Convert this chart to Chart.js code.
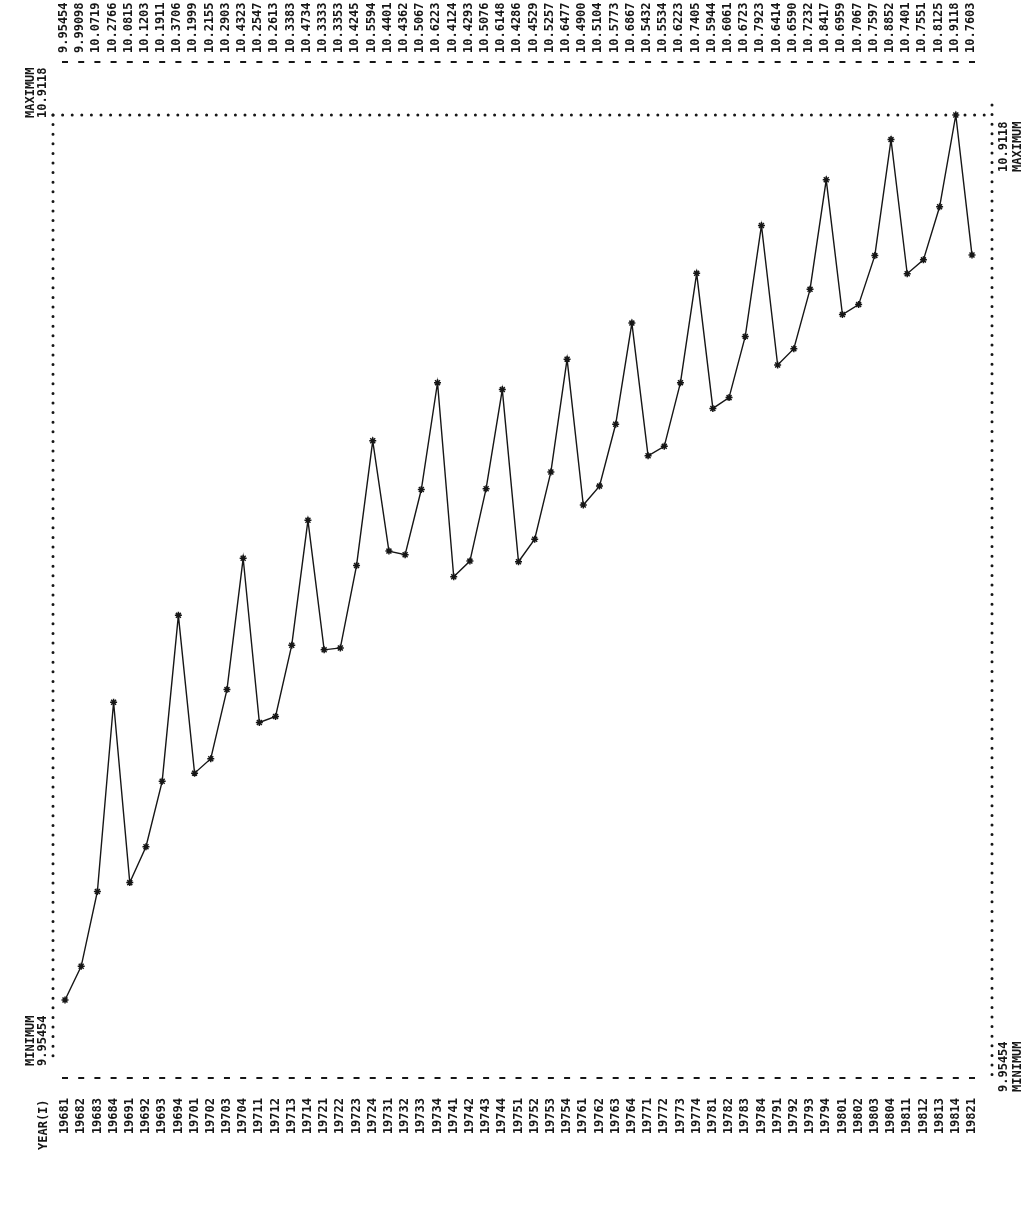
<!DOCTYPE html>
<html>
<head>
<meta charset="utf-8">
<script src="https://cdn.jsdelivr.net/npm/chart.js@4.4.1/dist/chart.umd.min.js"></script>
<style>
  html, body { margin: 0; padding: 0; background: #fff; }
  #wrap { width: 1030px; height: 1205px; }
</style>
</head>
<body>
<div id="wrap"><canvas id="plot"></canvas></div>
<script>
// quarterly series, 1968 Q1 .. 1982 Q1
const periods = [
  '19681', '19682', '19683', '19684', '19691', '19692', '19693', '19694',
  '19701', '19702', '19703', '19704', '19711', '19712', '19713', '19714',
  '19721', '19722', '19723', '19724', '19731', '19732', '19733', '19734',
  '19741', '19742', '19743', '19744', '19751', '19752', '19753', '19754',
  '19761', '19762', '19763', '19764', '19771', '19772', '19773', '19774',
  '19781', '19782', '19783', '19784', '19791', '19792', '19793', '19794',
  '19801', '19802', '19803', '19804', '19811', '19812', '19813', '19814',
  '19821'
];

const values = [
  9.95454, 9.99098, 10.0719, 10.2766, 10.0815, 10.1203, 10.1911, 10.3706,
  10.1999, 10.2155, 10.2903, 10.4323, 10.2547, 10.2613, 10.3383, 10.4734,
  10.3333, 10.3353, 10.4245, 10.5594, 10.4401, 10.4362, 10.5067, 10.6223,
  10.4124, 10.4293, 10.5076, 10.6148, 10.4286, 10.4529, 10.5257, 10.6477,
  10.4900, 10.5104, 10.5773, 10.6867, 10.5432, 10.5534, 10.6223, 10.7405,
  10.5944, 10.6061, 10.6723, 10.7923, 10.6414, 10.6590, 10.7232, 10.8417,
  10.6959, 10.7067, 10.7597, 10.8852, 10.7401, 10.7551, 10.8125, 10.9118,
  10.7603
];

const axisTitle = 'YEAR(I)';
const minWord = 'MINIMUM';
const maxWord = 'MAXIMUM';

// printer style number: 6 significant digits
const fmt = v => v < 10 ? v.toFixed(5) : v.toFixed(4);
const valueLabels = values.map(fmt);
const lo = Math.min(...values);
const hi = Math.max(...values);

const FONT = '"DejaVu Sans Mono", monospace';
const INK = '#161616';

function upText(ctx, text, x, y) {
  // text reads bottom to top, starting at (x, y)
  ctx.save();
  ctx.translate(x, y);
  ctx.rotate(-Math.PI / 2);
  ctx.textAlign = 'left';
  ctx.textBaseline = 'middle';
  ctx.fillText(text, 0, 0);
  ctx.restore();
}

function dots(ctx, x1, y1, x2, y2) {
  ctx.save();
  ctx.strokeStyle = INK;
  ctx.lineWidth = 3;
  ctx.lineCap = 'round';
  ctx.setLineDash([0, 9.6]);
  ctx.beginPath();
  ctx.moveTo(x1, y1);
  ctx.lineTo(x2, y2);
  ctx.stroke();
  ctx.restore();
}

// rotated labels would otherwise push the plot inwards
function noSidePadding(s) {
  s.paddingLeft = 0;
  s.paddingRight = 0;
}

const printout = {
  id: 'printout',
  beforeDraw(chart) {
    const ctx = chart.ctx;
    ctx.save();
    ctx.fillStyle = '#fff';
    ctx.fillRect(0, 0, chart.width, chart.height);
    ctx.restore();
  },
  afterDraw(chart) {
    const ctx = chart.ctx;
    const a = chart.chartArea;
    const xs = chart.scales.x;
    const leftX = a.left - 12;
    const rightX = a.right + 20;

    // frame made of dots
    dots(ctx, leftX, a.top, rightX, a.top);
    dots(ctx, leftX, a.top, leftX, a.bottom + 62);
    dots(ctx, rightX, a.top - 10, rightX, a.bottom + 82);

    // row separators above and below the plot
    ctx.save();
    ctx.strokeStyle = INK;
    ctx.lineWidth = 2;
    for (let i = 0; i < periods.length; i++) {
      const px = xs.getPixelForValue(i);
      [a.top - 53, a.bottom + 78].forEach(py => {
        ctx.beginPath();
        ctx.moveTo(px - 3, py);
        ctx.lineTo(px + 3, py);
        ctx.stroke();
      });
    }
    ctx.restore();

    ctx.save();
    ctx.fillStyle = INK;
    ctx.font = 'bold 12px ' + FONT;
    upText(ctx, minWord, 31, 1066);
    upText(ctx, fmt(lo), 43, 1066);
    upText(ctx, maxWord, 31, 118);
    upText(ctx, fmt(hi), 43, 118);
    upText(ctx, fmt(lo), 1004, 1092);
    upText(ctx, minWord, 1018, 1092);
    upText(ctx, fmt(hi), 1004, 172);
    upText(ctx, maxWord, 1018, 172);
    upText(ctx, axisTitle, 44, 1150);
    ctx.restore();
  }
};

// tiny line height keeps the rotated labels centred on their column
const tickFont = { family: FONT, size: 12, weight: 'bold', lineHeight: 0.1 };

new Chart(document.getElementById('plot'), {
  type: 'line',
  data: {
    labels: periods,
    datasets: [{
      data: values,
      borderColor: INK,
      borderWidth: 1.4,
      tension: 0,
      pointStyle: 'star',
      pointRadius: 3.5,
      pointBorderWidth: 1.5,
      pointBorderColor: INK,
      pointBackgroundColor: INK,
      clip: false
    }]
  },
  options: {
    responsive: true,
    maintainAspectRatio: false,
    animation: false,
    layout: { padding: { left: 65, right: 58, top: 0, bottom: 0 } },
    plugins: { legend: { display: false }, tooltip: { enabled: false } },
    scales: {
      x: {
        type: 'category',
        position: 'bottom',
        offset: false,
        grid: { display: false, drawTicks: false },
        border: { display: false },
        ticks: {
          autoSkip: false, minRotation: 90, maxRotation: 90,
          padding: 98, color: INK, font: tickFont
        },
        afterFit: s => { s.height = 205; noSidePadding(s); }
      },
      x2: {
        type: 'category',
        position: 'top',
        labels: valueLabels,
        offset: false,
        grid: { display: false, drawTicks: false },
        border: { display: false },
        ticks: {
          autoSkip: false, minRotation: 90, maxRotation: 90,
          padding: 62, color: INK, font: tickFont
        },
        afterFit: s => { s.height = 115; noSidePadding(s); }
      },
      y: { display: false, min: lo, max: hi }
    }
  },
  plugins: [printout]
});
</script>
</body>
</html>
